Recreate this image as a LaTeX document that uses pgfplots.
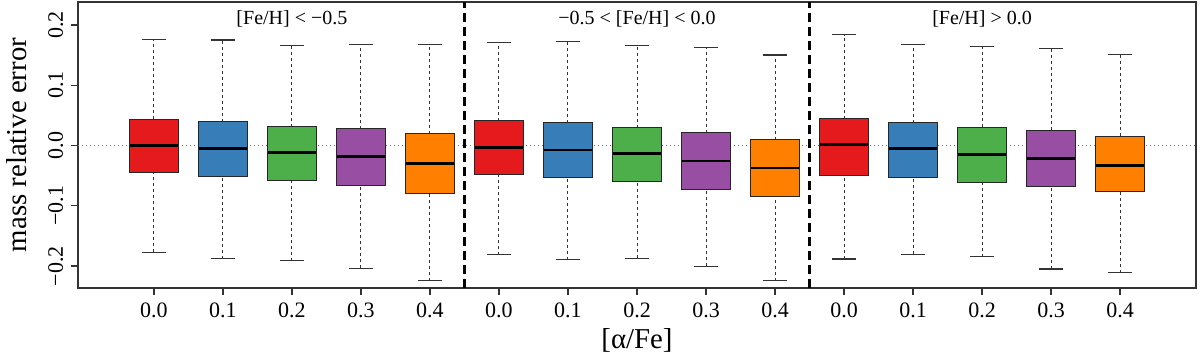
\documentclass[border=0pt]{standalone}
\usepackage{fontspec}
\setmainfont{Liberation Serif}
\usepackage{pgfplots}
\pgfplotsset{compat=1.18}

\definecolor{sred}{HTML}{E41A1C}
\definecolor{sblue}{HTML}{377EB8}
\definecolor{sgreen}{HTML}{4DAF4A}
\definecolor{spurple}{HTML}{984EA3}
\definecolor{sorange}{HTML}{FF7F00}

\pgfplotsset{
  whisker/.style={black!80, line width=0.5pt, dash pattern=on 1.5pt off 1.5pt},
  cap/.style={black!80, line width=0.6pt},
  boxbody/.style={draw=black!85, line width=0.5pt},
  median/.style={black, line width=1.35pt},
  tickline/.style={black!80, line width=0.7pt},
}

% one box: position, lower whisker, lower quartile, median, upper quartile, upper whisker, colour
\newcommand{\bx}[7]{%
  \pgfmathsetmacro\xl{#1-0.35}\pgfmathsetmacro\xr{#1+0.35}%
  \pgfmathsetmacro\cl{#1-0.175}\pgfmathsetmacro\cr{#1+0.175}%
  \edef\drawbox{%
    \noexpand\addplot[whisker] coordinates {(#1,#2) (#1,#3)};
    \noexpand\addplot[whisker] coordinates {(#1,#5) (#1,#6)};
    \noexpand\addplot[cap] coordinates {(\cl,#2) (\cr,#2)};
    \noexpand\addplot[cap] coordinates {(\cl,#6) (\cr,#6)};
    \noexpand\addplot[boxbody, fill=#7] coordinates {(\xl,#3) (\xr,#3) (\xr,#5) (\xl,#5)} -- cycle;
    \noexpand\addplot[median] coordinates {(\xl,#4) (\xr,#4)};
  }%
  \drawbox}

\begin{document}
\begin{tikzpicture}
\begin{axis}[
  scale only axis,
  width=559pt, height=143pt,
  xmin=-0.1, xmax=16.1,
  ymin=-0.2364, ymax=0.238,
  clip=false,
  axis line style={black!80, line width=0.7pt},
  xtick pos=bottom, ytick pos=left,
  xtick align=outside, ytick align=outside,
  major tick length=0pt,
  xtick={1,...,15},
  xticklabels={0.0,0.1,0.2,0.3,0.4,0.0,0.1,0.2,0.3,0.4,0.0,0.1,0.2,0.3,0.4},
  ytick={-0.2,-0.1,0,0.1,0.2},
  yticklabels={−0.2,−0.1,0.0,0.1,0.2},
  ticklabel style={font=\fontsize{11}{13}\selectfont, inner sep=0pt},
  yticklabel style={rotate=90, anchor=south},
  xticklabel style={anchor=north},
  yticklabel shift=7.25pt,
  xticklabel shift=7.25pt,
  xlabel={[α/Fe]},
  ylabel={mass relative error},
  xlabel style={at={(axis description cs:0.5,-0.1847)}, anchor=center,
    font=\fontsize{14.4}{16}\selectfont},
  ylabel style={at={(axis description cs:-0.0545,0.5)}, anchor=center,
    font=\fontsize{14.4}{16}\selectfont},
]
% outward tick marks (3.5pt long)
\pgfplotsinvokeforeach{1,...,15}{\addplot[tickline] coordinates {(#1,-0.2364) (#1,-0.2480)};}
\pgfplotsinvokeforeach{-0.2,-0.1,0,0.1,0.2}{\addplot[tickline] coordinates {(-0.1,#1) (-0.2014,#1)};}

\addplot[black!55, line width=0.5pt, dash pattern=on 0.6pt off 1.4pt]
  coordinates {(-0.1,0) (16.1,0)};
\addplot[black, line width=1.3pt, dash pattern=on 4.5pt off 2.5pt]
  coordinates {(5.5,-0.2364) (5.5,0.238)};
\addplot[black, line width=1.3pt, dash pattern=on 4.5pt off 2.5pt]
  coordinates {(10.5,-0.2364) (10.5,0.238)};

\bx{1}{-0.177}{-0.0446}{0.0}{0.0435}{0.176}{sred}
\bx{2}{-0.188}{-0.0518}{-0.0055}{0.0397}{0.175}{sblue}
\bx{3}{-0.191}{-0.0579}{-0.0121}{0.0314}{0.166}{sgreen}
\bx{4}{-0.204}{-0.0661}{-0.0187}{0.0276}{0.168}{spurple}
\bx{5}{-0.224}{-0.0799}{-0.0298}{0.0193}{0.168}{sorange}
\bx{6}{-0.181}{-0.0485}{-0.0033}{0.0408}{0.171}{sred}
\bx{7}{-0.1895}{-0.0523}{-0.0077}{0.038}{0.173}{sblue}
\bx{8}{-0.187}{-0.060}{-0.0132}{0.0298}{0.166}{sgreen}
\bx{9}{-0.2005}{-0.0727}{-0.0259}{0.021}{0.163}{spurple}
\bx{10}{-0.224}{-0.0843}{-0.0375}{0.0094}{0.150}{sorange}
\bx{11}{-0.1884}{-0.049}{0.0017}{0.0441}{0.1835}{sred}
\bx{12}{-0.1807}{-0.0523}{-0.005}{0.0375}{0.168}{sblue}
\bx{13}{-0.1846}{-0.0617}{-0.0149}{0.0303}{0.1647}{sgreen}
\bx{14}{-0.205}{-0.0672}{-0.021}{0.0253}{0.161}{spurple}
\bx{15}{-0.211}{-0.0771}{-0.033}{0.0154}{0.1504}{sorange}

\node[font=\fontsize{10}{12}\selectfont] at (axis cs:3,0.21) {[Fe/H] < −0.5};
\node[font=\fontsize{10}{12}\selectfont] at (axis cs:8,0.21) {−0.5 < [Fe/H] < 0.0};
\node[font=\fontsize{10}{12}\selectfont] at (axis cs:13,0.21) {[Fe/H] > 0.0};
\end{axis}
\path (current axis.south west) ++(-39pt,-34.5pt) coordinate (bbA);
\path (current axis.north east) ++(2pt,1pt) coordinate (bbB);
\pgfresetboundingbox
\path[use as bounding box] (bbA) rectangle (bbB);
\end{tikzpicture}
\end{document}
